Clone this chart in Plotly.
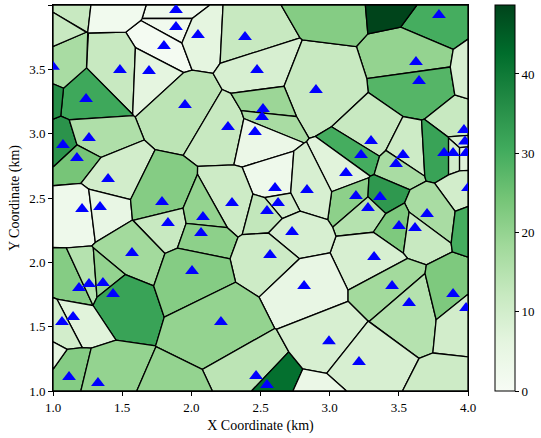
import numpy as np
import plotly.graph_objects as go

# Station coordinates (km) and measured values
station_x = [1.889, 1.889, 1.802, 2.048, 2.388, 3.790, 1.484, 1.694, 1.239, 1.954,
             2.475, 3.624, 3.646, 2.901, 2.265, 2.518, 2.511, 2.460, 1.072, 1.260,
             1.173, 1.398, 3.299, 3.227, 3.530, 3.480, 3.118, 3.971, 3.978, 3.827,
             3.892, 3.986, 4.000, 3.190, 3.364, 3.277, 3.704, 3.501, 3.617, 3.321,
             1.210, 1.340, 1.788, 1.831, 1.571, 2.605, 2.836, 2.294, 2.627, 2.547,
             2.084, 2.070, 2.728, 2.569, 1.188, 1.260, 1.361, 1.434, 1.145, 1.065,
             1.116, 1.325, 2.005, 2.815, 2.214, 2.468, 2.547, 3.451, 3.574, 3.892,
             3.986, 2.995, 3.212, 1.000]
station_y = [3.961, 3.829, 3.681, 3.767, 3.751, 3.922, 3.495, 3.487, 3.269, 3.223,
             3.495, 3.557, 3.409, 3.339, 3.052, 3.192, 3.130, 3.013, 2.912, 2.966,
             2.811, 2.648, 2.943, 2.834, 2.834, 2.764, 2.694, 3.029, 2.940, 2.850,
             2.850, 2.850, 2.578, 2.516, 2.508, 2.422, 2.376, 2.282, 2.267, 2.042,
             2.415, 2.430, 2.469, 2.306, 2.073, 2.578, 2.562, 2.461, 2.461, 2.399,
             2.352, 2.228, 2.236, 2.057, 1.801, 1.832, 1.839, 1.754, 1.575, 1.536,
             1.109, 1.062, 1.933, 1.816, 1.536, 1.117, 1.047, 1.816, 1.683, 1.754,
             1.645, 1.387, 1.226, 3.520]
station_val = [3, 2, 1, 6, 12, 30, 12, 6, 31, 14,
               9, 20, 28, 12, 12, 19, 17, 4, 35, 16,
               24, 10, 12, 30, 11, 17, 7, 12, 9, 32,
               10, 7, 10, 21, 34, 15, 17, 23, 12, 9,
               3, 5, 22, 12, 18, 3, 9, 11, 10, 13,
               20, 21, 9, 11, 22, 15, 20, 32, 7, 10,
               22, 20, 22, 5, 20, 14, 42, 18, 15, 23,
               10, 9, 9, 17]

# Stations lying just outside the mapped window
outer_x = [1.10, 1.24, 1.47, 3.00, 3.50, 4.12, 4.10, 1.85, 2.90, 3.90, 0.88, 0.90, 0.90]
outer_y = [4.12, 4.25, 4.08, 4.08, 4.12, 3.48, 2.33, 0.85, 0.90, 0.90, 3.78, 3.30, 1.25]
outer_val = [12, 9, 2, 22, 48.7, 9, 30, 20, 4, 11, 12, 36, 6]

GREENS = ["#f7fcf5", "#e5f5e0", "#c7e9c0", "#a1d99b", "#74c476",
          "#41ab5d", "#238b45", "#006d2c", "#00441b"]
X_MIN, X_MAX, Y_MIN, Y_MAX = 1.0, 4.0, 1.0, 4.0


def hex_rgb(h):
    return np.array([int(h[i:i + 2], 16) for i in (1, 3, 5)], dtype=float)


STOPS = np.linspace(0, 1, len(GREENS))
RGB = np.array([hex_rgb(c) for c in GREENS])


def greens(t):
    t = min(max(t, 0.0), 1.0)
    r, g, b = (np.interp(t, STOPS, RGB[:, k]) for k in range(3))
    return f"rgb({r:.0f},{g:.0f},{b:.0f})"


def clip(poly, a, b):
    """Keep the part of a convex polygon with a . p <= b."""
    out = []
    n = len(poly)
    for k in range(n):
        p, q = poly[k], poly[(k + 1) % n]
        fp = a @ p - b
        fq = a @ q - b
        if fp <= 0:
            out.append(p)
        if fp * fq < 0:
            t = fp / (fp - fq)
            out.append(p + t * (q - p))
    return out


xs = np.array(station_x + outer_x)
ys = np.array(station_y + outer_y)
vals = np.array(station_val + outer_val, dtype=float)
pts = np.column_stack([xs, ys])
vmax = vals.max()

box = [np.array(v, dtype=float) for v in
       [(X_MIN, Y_MIN), (X_MAX, Y_MIN), (X_MAX, Y_MAX), (X_MIN, Y_MAX)]]

fig = go.Figure()
for i, p in enumerate(pts):
    cell = list(box)
    for j, q in enumerate(pts):
        if i == j:
            continue
        a = q - p
        cell = clip(cell, a, a @ (p + q) / 2)
        if not cell:
            break
    if len(cell) < 3:
        continue
    cx = [c[0] for c in cell] + [cell[0][0]]
    cy = [c[1] for c in cell] + [cell[0][1]]
    fig.add_trace(go.Scatter(
        x=cx, y=cy, mode="lines", fill="toself",
        fillcolor=greens(vals[i] / vmax),
        line=dict(color="black", width=1.3),
        hoverinfo="skip", showlegend=False))

fig.add_trace(go.Scatter(
    x=station_x, y=station_y, mode="markers",
    marker=dict(symbol="triangle-up", size=12, color="blue"),
    showlegend=False))

colorscale = [[float(s), c] for s, c in zip(STOPS, GREENS)]
fig.add_trace(go.Scatter(
    x=[-10, -10], y=[-10, -10], mode="markers",
    marker=dict(color=[0, vmax], cmin=0, cmax=vmax, colorscale=colorscale,
                showscale=True,
                colorbar=dict(thickness=20, len=1, lenmode="fraction",
                              x=1.065, xanchor="left", y=0.5, yanchor="middle",
                              xpad=0, ypad=0,
                              outlinewidth=1, outlinecolor="black",
                              tickvals=[0, 10, 20, 30, 40], ticks="outside",
                              ticklen=4, tickcolor="black",
                              tickfont=dict(family="Liberation Serif", size=13, color="black"))),
    showlegend=False, hoverinfo="skip"))

axis_common = dict(range=[1, 4], showgrid=False, zeroline=False, showline=True,
                   mirror=True, linecolor="black", linewidth=1, ticks="outside",
                   ticklen=4, tickcolor="black",
                   tickvals=[1.0, 1.5, 2.0, 2.5, 3.0, 3.5, 4.0],
                   ticktext=["1.0", "1.5", "2.0", "2.5", "3.0", "3.5", "4.0"],
                   tickfont=dict(family="Liberation Serif", size=13, color="black"))

fig.update_layout(
    width=541, height=438,
    margin=dict(l=53, r=73, t=5, b=47, autoexpand=False),
    paper_bgcolor="white", plot_bgcolor="white",
    font=dict(family="Liberation Serif", size=14, color="black"),
    xaxis=dict(axis_common, title=dict(text="X Coordinate (km)", standoff=6,
                                       font=dict(family="Liberation Serif", size=14))),
    yaxis=dict(axis_common, title=dict(text="Y Coordinate (km)", standoff=6,
                                       font=dict(family="Liberation Serif", size=14))),
)

fig.write_html("out.html")
